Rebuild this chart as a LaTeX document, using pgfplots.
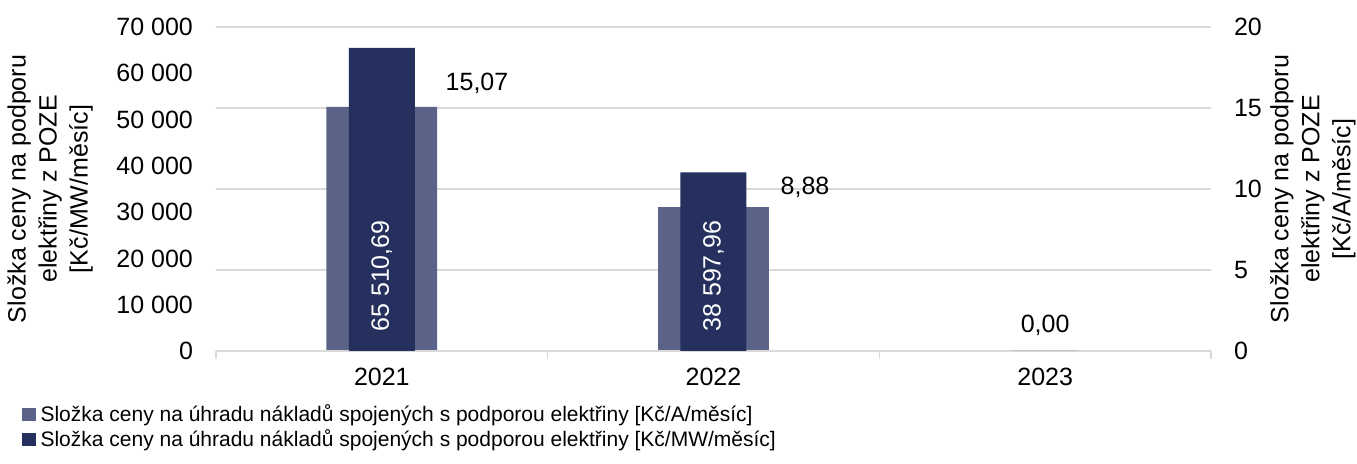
\documentclass[border=0pt]{standalone}
\usepackage{pgfplots}
\pgfplotsset{compat=1.18}
\usepackage{fontspec}
\setmainfont{Liberation Sans}
\definecolor{wide}{HTML}{5B6389}
\definecolor{narrow}{HTML}{25305E}
\definecolor{gridc}{HTML}{D9D9D9}
\begin{document}
\begin{tikzpicture}
\pgfplotsset{
  base/.style={
    at={(0,0)}, anchor=south west,
    width=497.5pt, height=162pt, scale only axis,
    xmin=-0.5, xmax=2.5, ymin=0,
    /pgf/number format/assume math mode=true,
    tick label style={font=\fontsize{12.5}{15}\selectfont},
    label style={font=\fontsize{12.5}{15.5}\selectfont, align=center},
    ybar, bar shift=0pt,
  }
}
\begin{axis}[base,
  ymax=20, ytick={0,5,10,15,20},
  axis y line*=right, axis x line=none,
  y axis line style={draw=none},
  ymajorgrids, grid style={gridc, line width=0.75pt},
  major tick length=0pt,
  yticklabel style={xshift=8pt},
  ylabel={Složka ceny na podporu\\elektřiny z POZE\\{[}Kč/A/měsíc{]}},
  ylabel style={at={(axis description cs:1.1025,0.5)}, anchor=center},
  bar width=0.334,
]
\addplot[fill=wide, draw=none] coordinates {(0,15.07) (1,8.88) (2,0)};
\end{axis}
\begin{axis}[base,
  ymax=70000, ytick={0,10000,20000,30000,40000,50000,60000,70000},
  scaled y ticks=false,
  /pgf/number format/fixed,
  /pgf/number format/1000 sep={\ },
  axis y line*=left, y axis line style={draw=none},
  axis x line*=bottom, x axis line style={gridc, line width=0.75pt},
  xtick={0,1,2}, xticklabels={2021,2022,2023},
  minor xtick={-0.5,0.5,1.5,2.5},
  major tick length=0pt, minor tick length=4pt,
  tick align=outside, minor tick style={gridc, line width=0.75pt},
  yticklabel style={xshift=-8pt},
  xticklabel style={yshift=-5pt},
  ylabel={Složka ceny na podporu\\elektřiny z POZE\\{[}Kč/MW/měsíc{]}},
  ylabel style={at={(axis description cs:-0.1668,0.5)}, anchor=center},
  bar width=0.199,
  legend style={at={(axis description cs:-0.195,-0.157)}, anchor=north west,
    draw=none, fill=none, font=\fontsize{10.5}{12.5}\selectfont,
    cells={anchor=west}, row sep=0.5pt, inner sep=0pt, nodes={inner sep=1pt}},
  legend image code/.code={\fill[#1] (0pt,-3.3pt) rectangle (6.6pt,3.3pt);},
]
\addlegendimage{fill=wide, draw=none}
\addlegendentry{\hspace{1.5pt}Složka ceny na úhradu nákladů spojených s podporou elektřiny {[}Kč/A/měsíc{]}}
\addplot[fill=narrow, draw=none] coordinates {(0,65510.69) (1,38597.96) (2,0)};
\addlegendentry{\hspace{1.5pt}Složka ceny na úhradu nákladů spojených s podporou elektřiny {[}Kč/MW/měsíc{]}}
\node[font=\fontsize{12.5}{15}\selectfont, text=white, rotate=90] at (axis cs:0,16204) {65 510,69};
\node[font=\fontsize{12.5}{15}\selectfont, text=white, rotate=90] at (axis cs:1,16204) {38 597,96};
\node[font=\fontsize{12.5}{15}\selectfont] at (axis cs:0.287,57901) {15,07};
\node[font=\fontsize{12.5}{15}\selectfont] at (axis cs:1.276,35432) {8,88};
\node[font=\fontsize{12.5}{15}\selectfont] at (axis cs:2,5617) {0,00};
\end{axis}
\pgfresetboundingbox
\path (-108pt,-56.5pt) rectangle (570.5pt,175.5pt);
\end{tikzpicture}
\end{document}
